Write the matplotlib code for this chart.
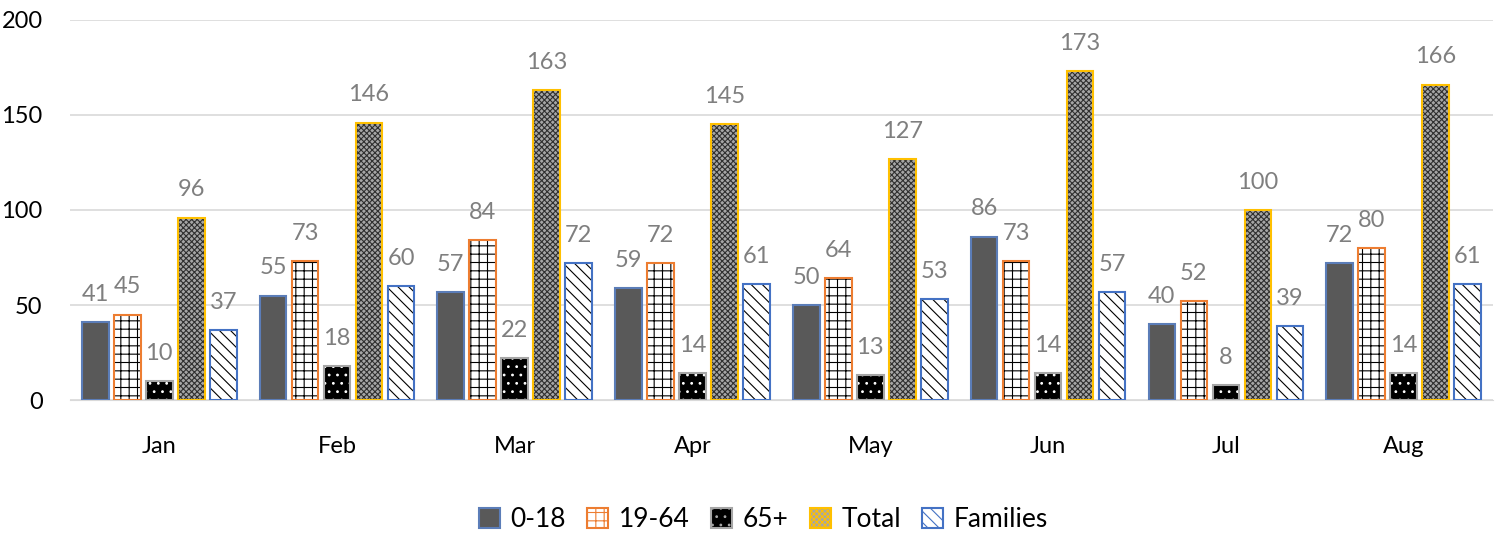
import numpy as np
import matplotlib.pyplot as plt
from matplotlib.patches import Patch

plt.rcParams['font.family'] = ['Lato', 'DejaVu Sans']
plt.rcParams['hatch.linewidth'] = 0.8

months = ["Jan", "Feb", "Mar", "Apr", "May", "Jun", "Jul", "Aug"]
age_0_18 = [41, 55, 57, 59, 50, 86, 40, 72]
age_19_64 = [45, 73, 84, 72, 64, 73, 52, 80]
age_65 = [10, 18, 22, 14, 13, 14, 8, 14]
total = [96, 146, 163, 145, 127, 173, 100, 166]
families = [37, 60, 72, 61, 53, 57, 39, 61]

series = [
    ("0-18", age_0_18, "#595959", None, "#595959", "#5B7DB8"),
    ("19-64", age_19_64, "white", "++", "black", "#ED7D31"),
    ("65+", age_65, "black", "..", "white", "#A6A6A6"),
    ("Total", total, "#A6A6A6", "xxxxxx", "#303030", "#FFC000"),
    ("Families", families, "white", "\\\\\\", "black", "#4472C4"),
]

fig = plt.figure(figsize=(14.97, 5.37), dpi=100)
ax = fig.add_axes([0.047, 0.255, 0.95, 0.708])

x = np.arange(len(months))
width = 0.15
step = 0.18
handles = []
for i, (name, vals, fc, hatch, hc, ec) in enumerate(series):
    pos = x + (i - 2) * step
    # hatch layer (hatch colour comes from edgecolor)
    ax.bar(pos, vals, width, color=fc, hatch=hatch, edgecolor=hc, linewidth=0, zorder=3)
    # outline layer
    ax.bar(pos, vals, width, fill=False, edgecolor=ec, linewidth=1.5, zorder=4)
    for p, v in zip(pos, vals):
        ax.text(p, v + 9, str(v), ha="center", va="bottom", fontsize=17, color="#7F7F7F")
    handles.append(Patch(facecolor=fc, hatch=hatch, edgecolor=ec, linewidth=1.5, label=name))

ax.set_xlim(-0.5, len(months) - 0.5)
ax.set_ylim(0, 200)
ax.set_yticks([0, 50, 100, 150, 200])
ax.set_xticks(x)
ax.set_xticklabels(months)
ax.tick_params(axis="both", length=0, labelsize=17)
ax.tick_params(axis="x", pad=26)
ax.tick_params(axis="y", pad=20)
ax.grid(axis="y", color="#D9D9D9", linewidth=1.2, zorder=0)
for s in ["top", "right", "left"]:
    ax.spines[s].set_visible(False)
ax.spines["bottom"].set_color("#D9D9D9")

fig.legend(handles=handles, loc="lower center", ncol=5, frameon=False,
           fontsize=19, bbox_to_anchor=(0.51, -0.035), handlelength=0.8,
           handleheight=0.8, handletextpad=0.4, columnspacing=0.8)

fig.savefig("out.png", dpi=100)
